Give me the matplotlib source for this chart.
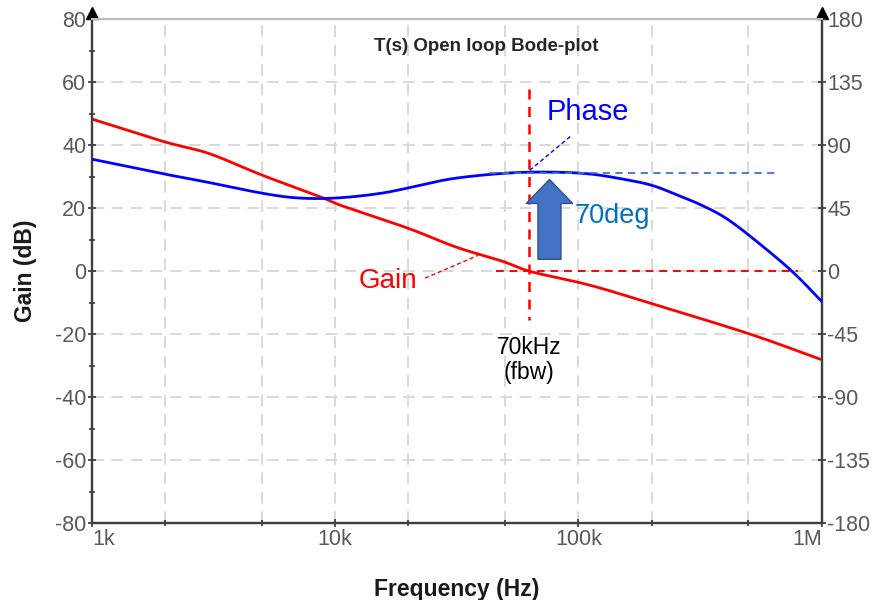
import numpy as np
import matplotlib.pyplot as plt
from matplotlib.patches import FancyArrowPatch

plt.rcParams['font.family'] = ['Liberation Sans', 'DejaVu Sans']
plt.rcParams['axes.unicode_minus'] = False

# данные
freq_gain = [1e3, 2e3, 3e3, 5e3, 9e3, 10e3, 20e3, 31.5e3, 50e3, 62.5e3, 111e3, 200e3, 500e3, 1e6]
gain_db = [48.3, 41.0, 37.5, 30.5, 23.2, 21.5, 13.6, 7.6, 2.9, 0.0, -4.4, -10.3, -19.8, -28.1]

freq_phase = [1e3, 2e3, 3e3, 5e3, 7e3, 10e3, 15e3, 20e3, 30e3, 50e3, 75e3, 110e3, 150e3,
              200e3, 250e3, 300e3, 350e3, 400e3, 500e3, 750e3, 1e6]
phase_deg = [80, 69.3, 63.5, 55.7, 52.3, 52.2, 55.3, 59.5, 66.0, 70.0, 70.8, 69.6, 66.0,
             61.5, 55.0, 49.5, 44.0, 38.5, 26.0, 0.5, -21.6]

x_ticks = [1e3, 1e4, 1e5, 1e6]
x_labels = ['1k', '10k', '100k', '1M']
gain_ticks = [-80, -60, -40, -20, 0, 20, 40, 60, 80]
phase_ticks = [-180, -135, -90, -45, 0, 45, 90, 135, 180]

fbw = 62.5e3
pm = 70


def smooth(xs, ys, n=30, win=25):
    # Catmull-Rom по лог-частоте + небольшое скользящее среднее
    lx = np.log10(xs)
    ys = np.asarray(ys, float)
    px = np.concatenate([[2 * lx[0] - lx[1]], lx, [2 * lx[-1] - lx[-2]]])
    py = np.concatenate([[2 * ys[0] - ys[1]], ys, [2 * ys[-1] - ys[-2]]])
    ox, oy = [], []
    for i in range(1, len(px) - 2):
        t = np.linspace(0, 1, n, endpoint=False)
        for p, out in ((px, ox), (py, oy)):
            p0, p1, p2, p3 = p[i - 1], p[i], p[i + 1], p[i + 2]
            out.extend(0.5 * (2 * p1 + (-p0 + p2) * t + (2 * p0 - 5 * p1 + 4 * p2 - p3) * t ** 2
                              + (-p0 + 3 * p1 - 3 * p2 + p3) * t ** 3))
    ox.append(lx[-1])
    oy.append(ys[-1])
    gx = np.linspace(lx[0], lx[-1], 900)
    gy = np.interp(gx, ox, oy)
    h = win // 2
    pad = np.concatenate([2 * gy[0] - gy[h:0:-1], gy, 2 * gy[-1] - gy[-2:-h - 2:-1]])
    gy = np.convolve(pad, np.ones(win) / win, mode='valid')
    return 10 ** gx, gy


fig = plt.figure(figsize=(8.76, 6), dpi=100)
ax = fig.add_axes([0.105, 0.128, 0.833, 0.84])
ax2 = ax.twinx()

ax.set_xscale('log')
ax.set_xlim(1e3, 1e6)
ax.set_ylim(-80, 80)
ax2.set_ylim(-180, 180)

# сетка
grid_kw = dict(color='#d9d9d9', lw=1.4, ls=(0, (6, 4)), zorder=0)
for f in [2e3, 5e3, 1e4, 2e4, 5e4, 1e5, 2e5, 5e5]:
    ax.axvline(f, **grid_kw)
for g in gain_ticks[1:-1]:
    ax.axhline(g, **grid_kw)

fx, fy = smooth(freq_gain, gain_db)
ax.plot(fx, fy, color='red', lw=2, zorder=3)
px, py = smooth(freq_phase, phase_deg)
ax2.plot(px, py, color='blue', lw=2, zorder=3)

# вспомогательные линии
ax.plot([fbw, fbw], [58, -15.5], color='red', ls=(0, (4, 3)), lw=1.8, zorder=4)
ax.plot([46e3, 0.8e6], [0, 0], color='red', ls=(0, (4, 3)), lw=1.4, zorder=4)
ax2.plot([43e3, 0.66e6], [pm, pm], color='#4472C4', ls=(0, (4, 3)), lw=1.3, zorder=4)

arrow = FancyArrowPatch((76e3, 2.9), (76e3, 30), arrowstyle='simple,head_length=0.75,head_width=1.45,tail_width=0.72',
                        mutation_scale=23, fc='#4472C4', ec='#2F528F', lw=1, zorder=5)
ax.add_patch(arrow)

ax.plot([63e3, 94e3], [32, 43.2], color='blue', ls=(0, (3, 2)), lw=1, zorder=4)
ax.plot([23.4e3, 38.6e3], [-2.2, 5], color='red', ls=(0, (3, 2)), lw=1, zorder=4)

ax.text(74e3, 50.5, 'Phase', color='blue', fontsize=21, va='center', ha='left')
ax.text(96e3, 17.5, '70deg', color='#0070C0', fontsize=19.5, va='center', ha='left')
ax.text(16.5e3, -3.2, 'Gain', color='red', fontsize=20, va='center', ha='center')
ax.text(fbw, -20.5, '70kHz\n(fbw)', color='black', fontsize=16.5, va='top', ha='center', linespacing=1.15)
ax.text(0.54, 0.946, 'T(s) Open loop Bode-plot', transform=ax.transAxes, ha='center', va='center',
        fontsize=13.5, fontweight='bold', color='#262626')

# оси
ax.set_xticks(x_ticks)
ax.set_xticklabels(x_labels)
ax.set_xticks([2e3, 5e3, 2e4, 5e4, 2e5, 5e5], minor=True)
ax.xaxis.set_minor_formatter(plt.NullFormatter())
ax.set_yticks(gain_ticks)
ax.set_yticks(np.arange(-70, 80, 20), minor=True)
ax2.set_yticks(phase_ticks)
for lbl, ha in zip(ax.get_xticklabels(), ['left', 'center', 'center', 'right']):
    lbl.set_ha(ha)

for a in (ax, ax2):
    a.tick_params(which='major', direction='inout', length=6, width=1.2, labelsize=15.5, labelcolor='#595959', color='#333333', pad=1)
    a.tick_params(which='minor', direction='inout', length=4, width=1.2, color='#333333')
    for s in ['left', 'right', 'bottom']:
        a.spines[s].set_color('#404040')
        a.spines[s].set_linewidth(1.6)
    a.spines['top'].set_color('#bbbbbb')
    a.spines['top'].set_linewidth(1.5)

ax.set_ylabel('Gain (dB)', fontsize=16.5, fontweight='bold', color='#1a1a1a', labelpad=13)
ax.set_xlabel('Frequency (Hz)', fontsize=16.5, fontweight='bold', color='#1a1a1a', labelpad=20)

ax.plot(0, 1.012, marker='^', color='black', ms=8, transform=ax.transAxes, clip_on=False, zorder=6)
ax.plot(1, 1.012, marker='^', color='black', ms=8, transform=ax.transAxes, clip_on=False, zorder=6)

fig.savefig('out.png', dpi=100)
